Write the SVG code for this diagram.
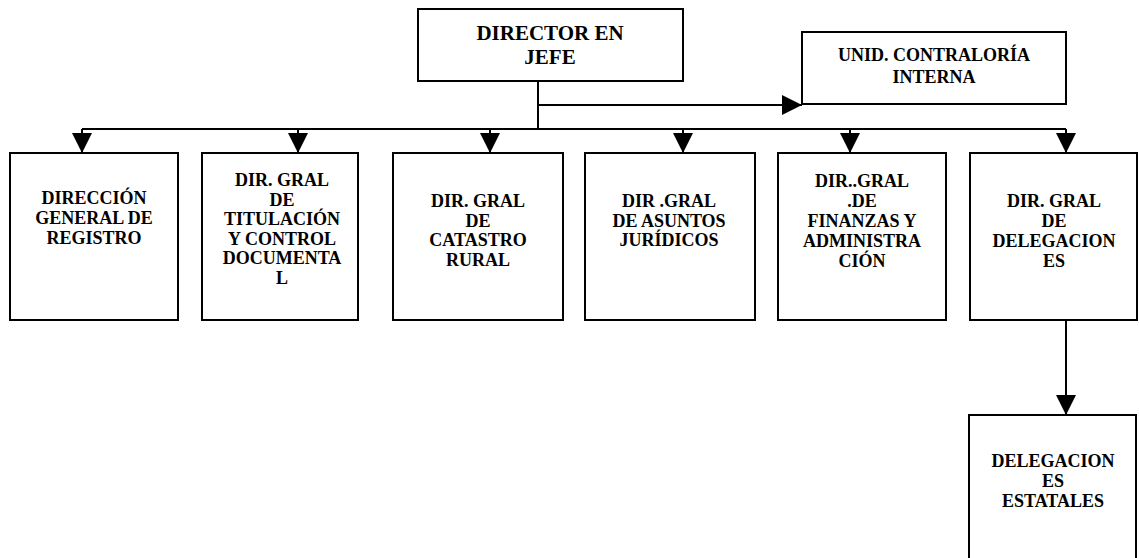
<svg xmlns="http://www.w3.org/2000/svg" width="1139" height="558" viewBox="0 0 1139 558">
<defs>
<style>
.box{fill:#fff;stroke:#000;stroke-width:2}
.t{font-family:"Liberation Serif","Times New Roman",serif;font-weight:bold;font-size:18px;text-anchor:middle;fill:#000}
.big{font-size:21px}
.c{fill:none;stroke:#000;stroke-width:2}
</style>
<marker id="ah" viewBox="0 0 20 20" refX="20" refY="10" markerWidth="20" markerHeight="20" markerUnits="userSpaceOnUse" orient="auto">
<path d="M0,0 L20,10 L0,20 z" fill="#000"/>
</marker>
</defs>
<rect width="1139" height="558" fill="#fff"/>
<g id="connectors">
<path class="c" d="M538,81 V129"/>
<path class="c" d="M538,105 H802" marker-end="url(#ah)"/>
<path class="c" d="M82,129 H1066"/>
<path class="c" d="M82,129 V153" marker-end="url(#ah)"/>
<path class="c" d="M298,129 V153" marker-end="url(#ah)"/>
<path class="c" d="M490,129 V153" marker-end="url(#ah)"/>
<path class="c" d="M683,129 V153" marker-end="url(#ah)"/>
<path class="c" d="M850,129 V153" marker-end="url(#ah)"/>
<path class="c" d="M1066,129 V153" marker-end="url(#ah)"/>
<path class="c" d="M1066,320 V415" marker-end="url(#ah)"/>
</g>
<g id="director">
<rect class="box" x="418" y="9" width="265" height="72"/>
<text class="t big" x="550" y="40">DIRECTOR EN</text>
<text class="t big" x="550" y="64">JEFE</text>
</g>
<g id="contraloria">
<rect class="box" x="802" y="32" width="264" height="72"/>
<text class="t" x="934" y="61">UNID. CONTRALORÍA</text>
<text class="t" x="934" y="83">INTERNA</text>
</g>
<g id="registro">
<rect class="box" x="10" y="153" width="168" height="167"/>
<text class="t" x="94" y="204">DIRECCIÓN</text>
<text class="t" x="94" y="224">GENERAL DE</text>
<text class="t" x="94" y="244">REGISTRO</text>
</g>
<g id="titulacion">
<rect class="box" x="202" y="153" width="156" height="167"/>
<text class="t" x="282" y="186">DIR. GRAL</text>
<text class="t" x="282" y="205.5">DE</text>
<text class="t" x="282" y="225">TITULACIÓN</text>
<text class="t" x="282" y="244.5">Y CONTROL</text>
<text class="t" x="282" y="264">DOCUMENTA</text>
<text class="t" x="282" y="283.5">L</text>
</g>
<g id="catastro">
<rect class="box" x="393" y="153" width="170" height="167"/>
<text class="t" x="478" y="207">DIR. GRAL</text>
<text class="t" x="478" y="226.5">DE</text>
<text class="t" x="478" y="246">CATASTRO</text>
<text class="t" x="478" y="266">RURAL</text>
</g>
<g id="juridicos">
<rect class="box" x="585" y="153" width="170" height="167"/>
<text class="t" x="669" y="207">DIR .GRAL</text>
<text class="t" x="669" y="226.5">DE ASUNTOS</text>
<text class="t" x="669" y="246">JURÍDICOS</text>
</g>
<g id="finanzas">
<rect class="box" x="778" y="153" width="168" height="167"/>
<text class="t" x="862" y="187">DIR..GRAL</text>
<text class="t" x="862" y="207">.DE</text>
<text class="t" x="862" y="227">FINANZAS Y</text>
<text class="t" x="862" y="247">ADMINISTRA</text>
<text class="t" x="862" y="267">CIÓN</text>
</g>
<g id="delegaciones">
<rect class="box" x="970" y="153" width="167" height="167"/>
<text class="t" x="1054" y="207">DIR. GRAL</text>
<text class="t" x="1054" y="227">DE</text>
<text class="t" x="1054" y="247">DELEGACION</text>
<text class="t" x="1054" y="267">ES</text>
</g>
<g id="estatales">
<rect class="box" x="969" y="415" width="167" height="170"/>
<text class="t" x="1053" y="467">DELEGACION</text>
<text class="t" x="1053" y="487">ES</text>
<text class="t" x="1053" y="507">ESTATALES</text>
</g>
</svg>
